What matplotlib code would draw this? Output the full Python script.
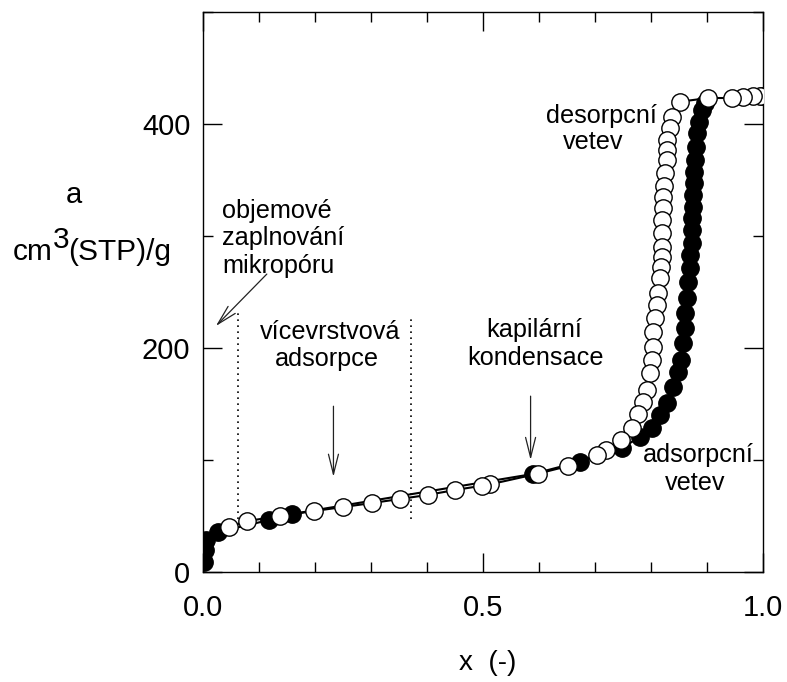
import matplotlib.pyplot as plt
from matplotlib.ticker import MultipleLocator

plt.rcParams['font.family'] = ['Liberation Sans', 'DejaVu Sans']

# adsorpcni vetev (plne body)
ads_x = [0.002, 0.003, 0.005, 0.027, 0.118, 0.159, 0.589, 0.673, 0.748, 0.780,
         0.801, 0.816, 0.828, 0.840, 0.848, 0.853, 0.857, 0.861, 0.861, 0.864,
         0.866, 0.870, 0.870, 0.873, 0.874, 0.874, 0.875, 0.875, 0.877, 0.877,
         0.879, 0.880, 0.882, 0.886, 0.891, 0.896]
ads_y = [9, 19.6, 28.6, 35.7, 46.4, 51.8, 87.5, 98.5, 110.4, 120.8,
         128.3, 140.2, 150.6, 165.4, 178.6, 189.3, 204.5, 217.9, 231.3, 244.6,
         258.9, 271.4, 283.0, 293.8, 305.4, 316.1, 325.9, 336.6, 347.3, 357.1,
         367.9, 379.5, 392.0, 401.8, 412.5, 418.8]

# desorpcni vetev (prazdne body), od x = 1 dolu
des_x = [0.998, 0.995, 0.982, 0.964, 0.944, 0.902, 0.852, 0.837, 0.834, 0.829,
         0.828, 0.828, 0.825, 0.823, 0.821, 0.821, 0.819, 0.819, 0.819, 0.819,
         0.818, 0.816, 0.813, 0.810, 0.807, 0.804, 0.804, 0.801, 0.798, 0.792,
         0.785, 0.777, 0.766, 0.746, 0.720, 0.704, 0.652, 0.599, 0.513, 0.499,
         0.450, 0.401, 0.352, 0.302, 0.250, 0.199, 0.138, 0.079, 0.046]
des_y = [425.0, 425.0, 425.0, 424.1, 423.2, 423.2, 419.9, 406.5, 396.4, 385.7,
         376.8, 367.9, 356.3, 344.6, 334.8, 325.0, 314.3, 302.7, 290.2, 281.3,
         272.3, 262.5, 249.1, 238.4, 226.5, 214.6, 201.2, 189.3, 177.4, 162.5,
         152.1, 141.1, 128.6, 117.9, 108.9, 104.5, 94.6, 87.9, 78.3, 77.1,
         73.2, 68.8, 65.2, 61.6, 58.0, 54.5, 50.0, 45.5, 40.2]

# hranice oblasti (teckovane cary)
region_x = [0.062, 0.371]
region_y = [[47, 232], [47, 226]]

x_ticks = [0.0, 0.5, 1.0]
x_labels = ['0.0', '0.5', '1.0']
y_ticks = [0, 200, 400]
y_labels = ['0', '200', '400']

fig = plt.figure(figsize=(7.87, 6.82), dpi=100)
ax = fig.add_axes([0.2579, 0.1613, 0.7116, 0.8211])

ax.plot(ads_x, ads_y, '-o', color='k', lw=1.5, ms=12.5, mfc='k', mec='k',
        mew=1.0, zorder=3)
ax.plot(des_x, des_y, '-o', color='k', lw=1.5, ms=12.5, mfc='white', mec='k',
        mew=1.0, zorder=4)

for rx, ry in zip(region_x, region_y):
    ax.plot([rx, rx], ry, color='k', lw=1.2, ls=(0, (1, 2.6)), zorder=2)

ax.set_xlim(0, 1.0)
ax.set_ylim(0, 500)
ax.set_xticks(x_ticks)
ax.set_xticklabels(x_labels)
ax.set_yticks(y_ticks)
ax.set_yticklabels(y_labels)
ax.xaxis.set_minor_locator(MultipleLocator(0.1))
ax.yaxis.set_minor_locator(MultipleLocator(100))
ax.tick_params(which='both', direction='in', top=True, right=True,
               width=1.0, labelsize=21)
ax.tick_params(which='major', length=13.5)
ax.tick_params(which='minor', length=7)
ax.tick_params(axis='x', pad=16)
ax.tick_params(axis='y', pad=9)
for sp in ax.spines.values():
    sp.set_linewidth(1.0)

# popisky
fs = 18.2
ax.text(0.034, 315.8, 'objemové', fontsize=fs, va='baseline')
ax.text(0.034, 292.0, 'zaplnování', fontsize=fs, va='baseline')
ax.text(0.034, 266.7, 'mikropóru', fontsize=fs, va='baseline')
ax.text(0.228, 207.8, 'vícevrstvová', fontsize=fs, ha='center', va='baseline')
ax.text(0.221, 183.9, 'adsorpce', fontsize=fs, ha='center', va='baseline')
ax.text(0.591, 210.1, 'kapilární', fontsize=fs, ha='center', va='baseline')
ax.text(0.593, 184.8, 'kondensace', fontsize=fs, ha='center', va='baseline')
ax.text(0.711, 401.0, 'desorpcní', fontsize=fs, ha='center', va='baseline')
ax.text(0.697, 377.5, 'vetev', fontsize=fs, ha='center', va='baseline')
ax.text(0.884, 98.5, 'adsorpcní', fontsize=fs, ha='center', va='baseline')
ax.text(0.879, 73.2, 'vetev', fontsize=fs, ha='center', va='baseline')

arrow = dict(arrowstyle='->,head_length=0.8,head_width=0.2', lw=0.9,
             color='#222222', mutation_scale=18, shrinkA=0, shrinkB=0)
ax.annotate('', xy=(0.023, 219.6), xytext=(0.114, 266), arrowprops=arrow)
ax.annotate('', xy=(0.233, 85), xytext=(0.233, 148), arrowprops=arrow)
ax.annotate('', xy=(0.585, 100), xytext=(0.585, 157), arrowprops=arrow)

# osy
fig.text(0.620, 0.028, 'x  (-)', fontsize=20, ha='center', va='center')
fig.text(0.094, 0.702, 'a', fontsize=21, ha='center', va='baseline')
fig.text(0.0165, 0.6194, 'cm', fontsize=21.5, ha='left', va='baseline')
fig.text(0.0675, 0.636, '3', fontsize=21.5, ha='left', va='baseline')
fig.text(0.0865, 0.6194, '(STP)/g', fontsize=21.5, ha='left', va='baseline')

fig.savefig('out.png', dpi=100)
